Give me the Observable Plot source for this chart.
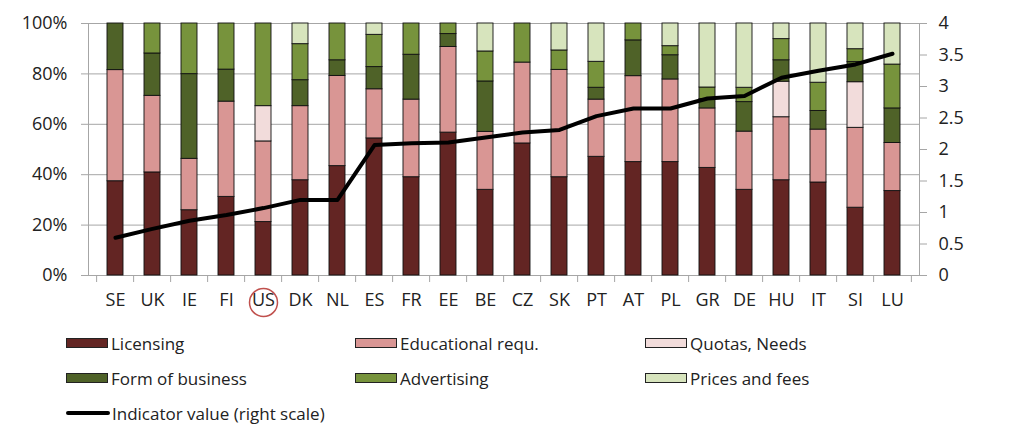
<!DOCTYPE html>
<html>
<head>
<meta charset="utf-8">
<script src="https://cdn.jsdelivr.net/npm/d3@7"></script>
<script src="https://cdn.jsdelivr.net/npm/@observablehq/plot@0.6"></script>
<style>
  body { margin: 0; background: #fff; font-family: "Open Sans", sans-serif; }
  #chart svg { display: block; }
  .legend { position: relative; height: 116px; font-size: 17px; color: #222; }
  .item { position: absolute; display: flex; align-items: center; height: 20px; white-space: nowrap; }
  .sw { width: 42px; height: 10px; border: 1px solid #222; margin-right: 3px; box-sizing: border-box; }
  .ln { width: 44px; height: 4px; background: #000; border-radius: 2px; margin-right: 2px; }
</style>
</head>
<body>
<div id="chart"></div>
<div class="legend" id="legend"></div>
<script>
const countries = ["SE","UK","IE","FI","US","DK","NL","ES","FR","EE","BE","CZ","SK","PT","AT","PL","GR","DE","HU","IT","SI","LU"];
const licensing   = [37.4,40.9,25.9,31.2,21.2,37.8,43.4,54.4,39.0,56.7,34.0,52.4,39.0,47.1,45.0,45.0,42.7,34.0,37.8,36.9,26.9,33.5];
const educational = [44.1,30.4,20.4,37.8,32.0,29.4,35.8,19.5,30.8,34.0,23.0,32.1,42.6,22.7,34.1,32.8,23.6,23.1,25.0,21.0,31.7,19.1];
const quotas      = [0,0,0,0,14.0,0,0,0,0,0,0,0,0,0,0,0,0,0,14.1,0,18.1,0];
const formBiz     = [18.5,16.8,33.6,12.7,0,10.3,6.2,8.8,17.8,5.1,20.0,0,0,4.7,14.2,9.6,3.7,11.7,8.5,7.4,8.0,13.7];
const advertising = [0,11.9,20.1,18.3,32.8,14.3,14.6,12.8,12.4,4.2,11.9,15.5,7.7,10.3,6.7,3.6,4.6,5.7,8.4,11.2,5.1,17.4];
const prices      = [0,0,0,0,0,8.2,0,4.5,0,0,11.1,0,10.7,15.2,0,9.0,25.4,25.5,6.2,23.5,10.2,16.3];
const indicator   = [0.60,0.74,0.87,0.96,1.07,1.20,1.20,2.07,2.10,2.11,2.19,2.27,2.31,2.53,2.65,2.65,2.81,2.85,3.14,3.25,3.35,3.52];

const seriesNames = ["Licensing","Educational requ.","Quotas, Needs","Form of business","Advertising","Prices and fees"];
const seriesColors = ["#632523","#D99694","#F2DCDB","#4F6228","#77933C","#D7E4BD"];
const seriesValues = [licensing, educational, quotas, formBiz, advertising, prices];
const leftTicks = [0,20,40,60,80,100];
const rightTicks = [0,0.5,1,1.5,2,2.5,3,3.5,4];
const rightMax = 4;

const rows = [];
countries.forEach((c, i) => seriesNames.forEach((s, k) => rows.push({country: c, series: s, value: seriesValues[k][i]})));
const lineData = countries.map((c, i) => ({country: c, ind: indicator[i]}));

const W = 1023, H = 318, mL = 88, mR = 104, mT = 23, mB = 43;
const step = (W - mL - mR) / countries.length;
const toLeft = v => v * 100 / rightMax;

const plot = Plot.plot({
  width: W, height: H,
  marginLeft: mL, marginRight: mR, marginTop: mT, marginBottom: mB,
  style: {fontFamily: "Open Sans, sans-serif", fontSize: "18px", color: "#222", background: "#fff"},
  x: {domain: countries, paddingInner: 0.58, paddingOuter: 0.29, axis: null, label: null},
  y: {domain: [0, 100], axis: null, label: null},
  color: {domain: seriesNames, range: seriesColors},
  marks: [
    Plot.ruleY(leftTicks, {stroke: "#a6a6a6", strokeWidth: 1}),
    Plot.frame({stroke: "#a6a6a6"}),
    Plot.axisY(leftTicks, {anchor: "left", label: null, tickSize: 7, tickPadding: 14, stroke: "#a6a6a6", fill: "#222", tickFormat: d => d + "%", fontSize: 18}),
    Plot.axisY(rightTicks.map(toLeft), {anchor: "right", label: null, tickSize: 7, tickPadding: 12, stroke: "#a6a6a6", fill: "#222", tickFormat: d => String(d * rightMax / 100), fontSize: 18}),
    Plot.axisX({label: null, tickSize: 7, tickFormat: () => "", stroke: "#a6a6a6", dx: -step / 2}),
    Plot.axisX([countries[countries.length - 1]], {label: null, tickSize: 7, tickFormat: () => "", stroke: "#a6a6a6", dx: step / 2}),
    Plot.axisX({label: null, tickSize: 0, tickPadding: 18, fill: "#222", fontSize: 18, letterSpacing: "1px"}),
    Plot.barY(rows, {x: "country", y: "value", fill: "series", order: seriesNames, stroke: "#111", strokeWidth: 0.9}),
    Plot.line(lineData, {x: "country", y: d => toLeft(d.ind), stroke: "#000", strokeWidth: 4, strokeLinejoin: "round", strokeLinecap: "round"}),
    Plot.dot(["US"], {x: d => d, frameAnchor: "bottom", dy: 27, r: 14, stroke: "#c0504d", strokeWidth: 1.5, fill: "none"})
  ]
});
document.getElementById("chart").appendChild(plot);

const legend = document.getElementById("legend");
const pos = [[66, 15], [355, 15], [645, 15], [66, 50], [355, 50], [645, 50]];
seriesNames.forEach((s, k) => {
  const it = document.createElement("div");
  it.className = "item";
  it.style.left = pos[k][0] + "px"; it.style.top = pos[k][1] + "px";
  it.innerHTML = `<span class="sw" style="background:${seriesColors[k]}"></span><span>${s}</span>`;
  legend.appendChild(it);
});
const li = document.createElement("div");
li.className = "item"; li.style.left = "66px"; li.style.top = "85px";
li.innerHTML = `<span class="ln"></span><span>Indicator value (right scale)</span>`;
legend.appendChild(li);
</script>
</body>
</html>
